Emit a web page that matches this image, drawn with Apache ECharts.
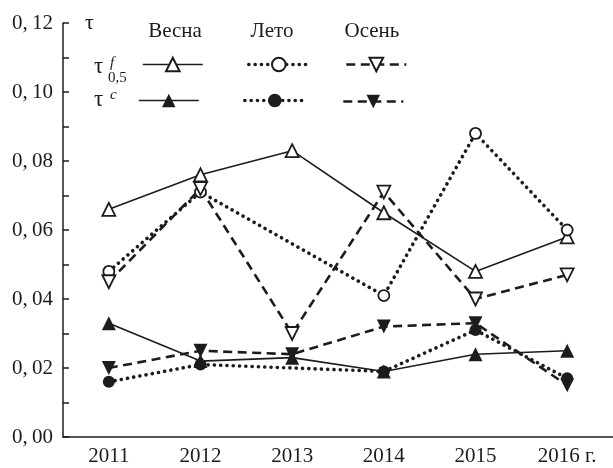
<!DOCTYPE html>
<html>
<head>
<meta charset="utf-8">
<script src="https://cdn.jsdelivr.net/npm/echarts@6/dist/echarts.min.js"></script>
<style>
  html, body { margin: 0; padding: 0; background: #fff; }
  #chart { width: 613px; height: 468px; }
</style>
</head>
<body>
<div id="chart"></div>
<script>
// Years on the horizontal axis and their printed labels
const years = ['2011', '2012', '2013', '2014', '2015', '2016'];
const xTickLabels = ['2011', '2012', '2013', '2014', '2015', '2016 г.'];

// τ_f(0,5) by season
const springTauF = [0.066, 0.076, 0.083, 0.065, 0.048, 0.058];
const summerTauF = [0.048, 0.071, null, 0.041, 0.088, 0.060];
const autumnTauF = [0.045, 0.072, 0.030, 0.071, 0.040, 0.047];

// τ^c by season
const springTauC = [0.033, 0.022, 0.023, 0.019, 0.024, 0.025];
const summerTauC = [0.016, 0.021, null, 0.019, 0.031, 0.017];
const autumnTauC = [0.020, 0.025, 0.024, 0.032, 0.033, 0.015];

// Column headings of the key
const seasonNames = ['Весна', 'Лето', 'Осень'];

const INK = '#1c1c1c';
const FONT = '"Liberation Serif", "DejaVu Serif", serif';

const solid = { type: 'solid', width: 1.6, color: INK };
const dotted = { type: [0.1, 6.2], width: 3.6, cap: 'round', color: INK };
const dashed = { type: [9, 5.5], width: 2.6, color: INK };

const hollow = { color: '#fff', borderColor: INK, borderWidth: 1.8 };
const filled = { color: INK, borderColor: INK, borderWidth: 0 };

function line(name, data, lineStyle, symbol, rotate, itemStyle, size) {
  return {
    name: name,
    type: 'line',
    data: data,
    connectNulls: true,
    symbol: symbol,
    symbolRotate: rotate,
    symbolSize: size,
    showSymbol: true,
    lineStyle: lineStyle,
    itemStyle: itemStyle,
    emphasis: { disabled: true },
    animation: false
  };
}

const series = [
  line('spring-f', springTauF, solid, 'triangle', 0, hollow, 13),
  line('summer-f', summerTauF, dotted, 'circle', 0, hollow, 11),
  line('autumn-f', autumnTauF, dashed, 'triangle', 180, hollow, 13),
  line('spring-c', springTauC, solid, 'triangle', 0, filled, 14),
  line('summer-c', summerTauC, dotted, 'circle', 0, filled, 12),
  line('autumn-c', autumnTauC, dashed, 'triangle', 180, filled, 14)
];

// One small key entry per series, laid out as a season × quantity table
function keyEntry(name, left, top, width) {
  return {
    data: [name],
    left: left,
    top: top,
    padding: 0,
    itemWidth: 60,
    itemHeight: 17,
    selectedMode: false,
    formatter: function () { return ''; },
    lineStyle: { width: width }
  };
}

const legends = [
  keyEntry('spring-f', 142, 56, 1.6),
  keyEntry('summer-f', 247, 56, 3.6),
  keyEntry('autumn-f', 345, 56, 2.6),
  keyEntry('spring-c', 138, 92, 1.6),
  keyEntry('summer-c', 243, 92, 3.6),
  keyEntry('autumn-c', 342, 93, 2.6)
];

function txt(text, x, y, size, opts) {
  return {
    type: 'text',
    x: x,
    y: y,
    silent: true,
    style: Object.assign({
      text: text,
      font: size + 'px ' + FONT,
      fill: INK,
      align: 'left',
      verticalAlign: 'middle'
    }, opts || {})
  };
}

const graphics = [
  txt(seasonNames[0], 175, 31, 21, { align: 'center' }),
  txt(seasonNames[1], 272, 31, 21, { align: 'center' }),
  txt(seasonNames[2], 372, 31, 21, { align: 'center' }),
  // axis quantity symbol
  txt('τ', 85, 23, 22),
  // row label τ_f(0,5)
  txt('τ', 94, 67, 23),
  txt('f', 110, 63, 15, { font: 'italic 15px ' + FONT }),
  txt('0,5', 108, 78, 15),
  // row label τ^c
  txt('τ', 94, 100, 23),
  txt('c', 110, 95, 15, { font: 'italic 15px ' + FONT })
];

const chart = echarts.init(document.getElementById('chart'), null, { renderer: 'canvas' });

chart.setOption({
  animation: false,
  backgroundColor: '#fff',
  grid: { left: 63, right: -12, top: 23, bottom: 31, containLabel: false },
  xAxis: {
    type: 'category',
    data: years,
    boundaryGap: true,
    axisLine: { lineStyle: { color: INK, width: 1.5 } },
    axisTick: { alignWithLabel: true, inside: true, length: 8, lineStyle: { color: INK, width: 1.5 } },
    axisLabel: {
      color: INK,
      fontFamily: FONT,
      fontSize: 21,
      margin: 9,
      formatter: function (v, i) { return xTickLabels[i]; }
    },
    splitLine: { show: false }
  },
  yAxis: {
    type: 'value',
    min: 0,
    max: 0.12,
    interval: 0.01,
    axisLine: { show: true, lineStyle: { color: INK, width: 1.5 } },
    axisTick: { show: true, inside: true, length: 6, lineStyle: { color: INK, width: 1.5 } },
    axisLabel: {
      color: INK,
      fontFamily: FONT,
      fontSize: 21,
      margin: 10,
      formatter: function (v) {
        const h = Math.round(v * 100);
        if (h % 2 !== 0) return '';
        const s = v.toFixed(2).split('.');
        return s[0] + ',\u2009' + s[1];
      }
    },
    splitLine: { show: false }
  },
  legend: legends,
  graphic: graphics,
  series: series
});
</script>
</body>
</html>
